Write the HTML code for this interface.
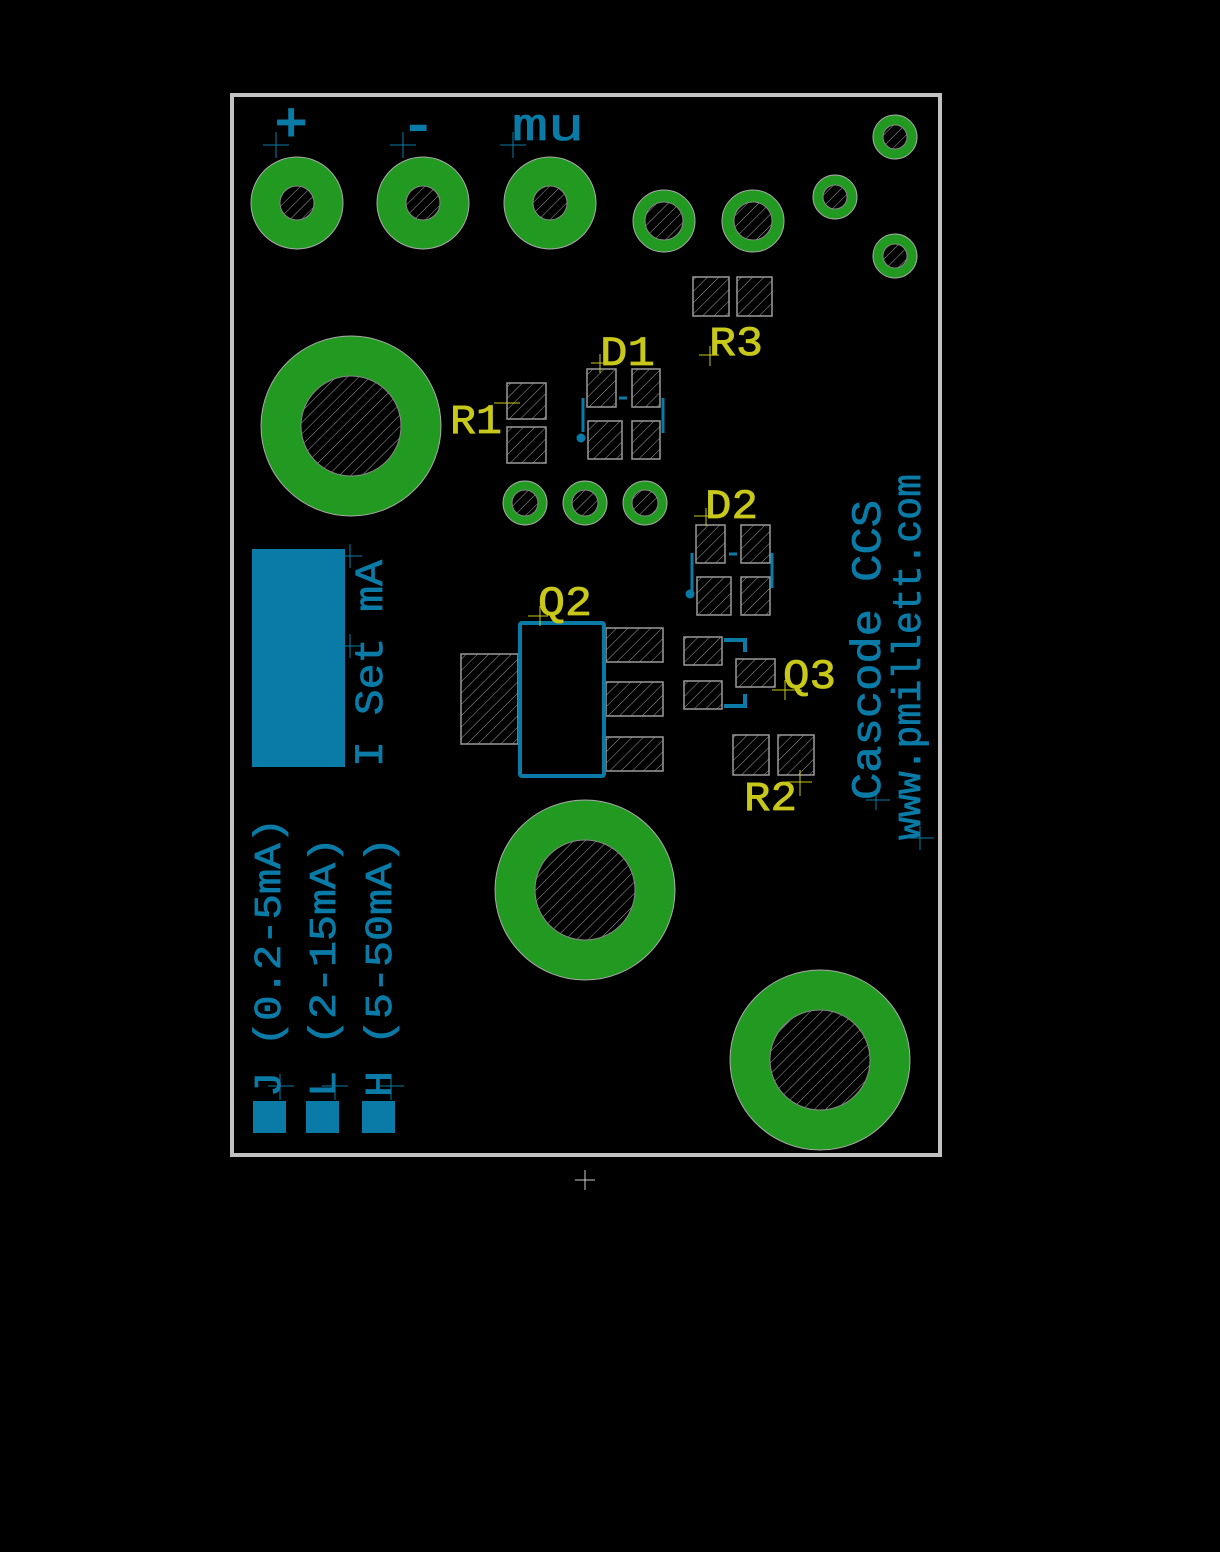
<!DOCTYPE html>
<html><head><meta charset="utf-8"><style>
html,body{margin:0;padding:0;background:#000;}
svg{display:block}
text{font-family:"Liberation Mono","DejaVu Sans Mono",monospace;}
</style></head><body>
<svg width="1220" height="1552" viewBox="0 0 1220 1552" xmlns="http://www.w3.org/2000/svg">
<defs>
<pattern id="h" width="8" height="8" patternUnits="userSpaceOnUse" patternTransform="rotate(45)">
<rect width="8" height="8" fill="#000"/><line x1="0" y1="0" x2="0" y2="8" stroke="#a0a0a0" stroke-width="1"/>
</pattern>
</defs>
<rect width="1220" height="1552" fill="#000"/>
<rect x="232" y="95" width="708" height="1060" fill="none" stroke="#c2c2c2" stroke-width="4"/>

<g fill="#229a22" stroke="#aaa" stroke-width="1">
<circle cx="297" cy="203" r="46"/><circle cx="423" cy="203" r="46"/><circle cx="550" cy="203" r="46"/>
<circle cx="664" cy="221" r="31"/><circle cx="753" cy="221" r="31"/>
<circle cx="835" cy="197" r="22"/><circle cx="895" cy="137" r="22"/><circle cx="895" cy="256" r="22"/>
<circle cx="351" cy="426" r="90"/><circle cx="585" cy="890" r="90"/><circle cx="820" cy="1060" r="90"/>
<circle cx="525" cy="503" r="22"/><circle cx="585" cy="503" r="22"/><circle cx="645" cy="503" r="22"/>
</g>
<g fill="url(#h)" stroke="#888" stroke-width="1">
<circle cx="297" cy="203" r="17"/><circle cx="423" cy="203" r="17"/><circle cx="550" cy="203" r="17"/>
<circle cx="664" cy="221" r="19"/><circle cx="753" cy="221" r="19"/>
<circle cx="835" cy="197" r="12"/><circle cx="895" cy="137" r="12"/><circle cx="895" cy="256" r="12"/>
<circle cx="351" cy="426" r="50"/><circle cx="585" cy="890" r="50"/><circle cx="820" cy="1060" r="50"/>
<circle cx="525" cy="503" r="13"/><circle cx="585" cy="503" r="13"/><circle cx="645" cy="503" r="13"/>
</g>

<g fill="url(#h)" stroke="#9a9a9a" stroke-width="1.5">
<rect x="693" y="277" width="36" height="39"/><rect x="737" y="277" width="35" height="39"/>
<rect x="507" y="383" width="39" height="36"/><rect x="507" y="427" width="39" height="36"/>
<rect x="587" y="369" width="29" height="38"/><rect x="632" y="369" width="28" height="38"/>
<rect x="588" y="421" width="34" height="38"/><rect x="632" y="421" width="28" height="38"/>
<rect x="696" y="525" width="29" height="38"/><rect x="741" y="525" width="29" height="38"/>
<rect x="697" y="577" width="34" height="38"/><rect x="741" y="577" width="29" height="38"/>
<rect x="461" y="654" width="57" height="90"/>
<rect x="606" y="628" width="57" height="34"/><rect x="606" y="682" width="57" height="34"/><rect x="606" y="737" width="57" height="34"/>
<rect x="684" y="637" width="38" height="28"/><rect x="684" y="681" width="38" height="28"/><rect x="736" y="659" width="39" height="28"/>
<rect x="733" y="735" width="36" height="40"/><rect x="778" y="735" width="36" height="40"/>
</g>

<g stroke="#0a7aa6" fill="none" stroke-width="3">
<line x1="583" y1="398" x2="583" y2="432"/><line x1="663" y1="398" x2="663" y2="433"/>
<line x1="619" y1="398" x2="627" y2="398"/>
<line x1="692" y1="553" x2="692" y2="593"/><line x1="772" y1="553" x2="772" y2="588"/>
<line x1="729" y1="554" x2="737" y2="554"/>
<rect x="520" y="623" width="84" height="153" stroke-width="4" rx="2"/>
<polyline points="724,640 745,640 745,652" stroke-width="4"/>
<polyline points="745,694 745,706 724,706" stroke-width="4"/>
</g>
<g fill="#0a7aa6">
<circle cx="581" cy="438" r="4.5"/><circle cx="690" cy="594" r="4.5"/>
<rect x="252" y="549" width="93" height="218"/>
<rect x="253" y="1101" width="33" height="32"/><rect x="306" y="1101" width="33" height="32"/><rect x="362" y="1101" width="33" height="32"/>
</g>

<g fill="#0a7aa6" stroke="#0a7aa6" stroke-width="0.8" font-size="40">
<text x="275" y="140" font-size="54" stroke-width="2">+</text>
<text x="402" y="142" font-size="54" stroke-width="2">-</text>
<text x="512" y="140" font-size="46" textLength="72" lengthAdjust="spacingAndGlyphs">mu</text>
<text transform="translate(382,767) rotate(-90)" font-size="40" textLength="207" lengthAdjust="spacingAndGlyphs">I Set mA</text>
<text transform="translate(280,1097) rotate(-90)" font-size="38" textLength="279" lengthAdjust="spacingAndGlyphs">J (0.2-5mA)</text>
<text transform="translate(335,1097) rotate(-90)" font-size="38" textLength="260" lengthAdjust="spacingAndGlyphs">L (2-15mA)</text>
<text transform="translate(391,1097) rotate(-90)" font-size="38" textLength="260" lengthAdjust="spacingAndGlyphs">H (5-50mA)</text>
<text transform="translate(880,800) rotate(-90)" font-size="42" textLength="300" lengthAdjust="spacingAndGlyphs">Cascode CCS</text>
<text transform="translate(920,840) rotate(-90)" font-size="40" textLength="366" lengthAdjust="spacingAndGlyphs">www.pmillett.com</text>
</g>

<g fill="#c8c81a" stroke="#c8c81a" stroke-width="0.8" font-size="42">
<text x="600" y="365" textLength="55" lengthAdjust="spacingAndGlyphs">D1</text>
<text x="709" y="355" textLength="54" lengthAdjust="spacingAndGlyphs">R3</text>
<text x="450" y="433" textLength="52" lengthAdjust="spacingAndGlyphs">R1</text>
<text x="705" y="518" textLength="53" lengthAdjust="spacingAndGlyphs">D2</text>
<text x="538" y="615" textLength="54" lengthAdjust="spacingAndGlyphs">Q2</text>
<text x="783" y="688" textLength="53" lengthAdjust="spacingAndGlyphs">Q3</text>
<text x="744" y="810" textLength="53" lengthAdjust="spacingAndGlyphs">R2</text>
</g>

<g stroke="#c8c81a" stroke-width="1">
<path d="M591 363h20M600 354v19"/><path d="M699 355h20M710 346v20"/>
<path d="M494 403h26"/><path d="M694 516h20M706 508v18"/>
<path d="M528 616h20M540 606v20"/><path d="M772 690h30M785 680v20"/><path d="M786 782h26M800 770v26"/>
</g>
<g stroke="#0a7aa6" stroke-width="1">
<path d="M263 145h26M276 132v26M390 145h26M403 132v26M500 145h26M513 132v26"/>
<path d="M338 556h24M350 544v24M338 646h24M350 634v24"/>
<path d="M268 1086h26M280 1074v26M322 1086h26M335 1074v26M378 1086h26M391 1074v26"/>
<path d="M866 800h24M876 790v20M910 838h24M920 826v24"/>
</g>
<path d="M575 1180h20M585 1170v20" stroke="#ccc" stroke-width="1"/>
</svg>
</body></html>
